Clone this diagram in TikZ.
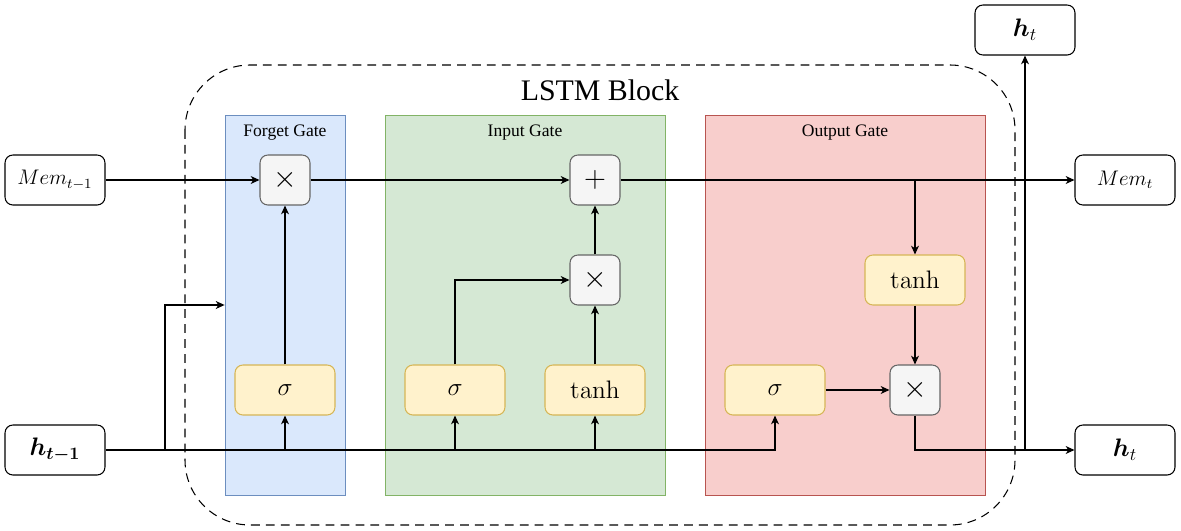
\documentclass[tikz,border=0pt]{standalone}
\usepackage[no-math]{fontspec}
\setmainfont{Liberation Serif}
\usepackage{amsmath}
\usepackage{bm}
\usetikzlibrary{shapes,arrows.meta,positioning,calc}

\definecolor{forgetfill}{HTML}{DAE8FC}
\definecolor{forgetline}{HTML}{6C8EBF}
\definecolor{inputfill}{HTML}{D5E8D4}
\definecolor{inputline}{HTML}{82B366}
\definecolor{outputfill}{HTML}{F8CECC}
\definecolor{outputline}{HTML}{B85450}
\definecolor{opfill}{HTML}{F5F5F5}
\definecolor{opline}{HTML}{666666}
\definecolor{actfill}{HTML}{FFF2CC}
\definecolor{actline}{HTML}{D6B656}

\tikzset{
  io/.style={draw, fill=white, rounded corners=4.5pt, minimum width=2cm, minimum height=1cm, inner sep=0pt},
  op/.style={draw=opline, fill=opfill, rounded corners=4.5pt, minimum size=1cm, inner sep=0pt, font=\LARGE},
  act/.style={draw=actline, fill=actfill, rounded corners=4.5pt, minimum width=2cm, minimum height=1cm, inner sep=0pt, font=\fontsize{15.5}{18}\selectfont},
  panel/.style={minimum width=#1, minimum height=7.6cm, inner sep=0pt, line width=0.5pt},
  gatename/.style={anchor=north, font=\fontsize{10}{12}\selectfont, yshift=-0.08cm},
}

\begin{document}
\begin{tikzpicture}[x=0.02cm, y=-0.02cm, line width=0.6pt, >={Stealth[length=5pt,width=4.5pt,inset=1.5pt]}]
    \useasboundingbox (0,0) rectangle (1181,531);

    % Gate panels
    \node[panel=2.4cm, draw=forgetline, fill=forgetfill] (fgate) at (285,305) {};
    \node[panel=5.6cm, draw=inputline, fill=inputfill] (igate) at (525,305) {};
    \node[panel=5.6cm, draw=outputline, fill=outputfill] (ogate) at (845,305) {};
    \node[gatename] at (fgate.north) {Forget Gate};
    \node[gatename] at (igate.north) {Input Gate};
    \node[gatename] at (ogate.north) {Output Gate};

    % Block
    \draw[dashed, dash pattern=on 5pt off 3.5pt, rounded corners=1.3cm] (185,65) rectangle (1015,525);
    \node[font=\fontsize{17}{20}\selectfont] (title) at (600,90) {LSTM Block};

    % Inputs and outputs
    \node[io, font=\fontsize{11.5}{14}\selectfont] (mprev) at (55,180) {$Mem_{t-1}$};
    \node[io, font=\Large] (hprev) at (55,450) {$\bm{h}_{\bm{t-1}}$};
    \node[io, font=\fontsize{11.5}{14}\selectfont] (mnext) at (1125,180) {$Mem_t$};
    \node[io, font=\Large] (hnext) at (1125,450) {$\bm{h}_t$};
    \node[io, font=\Large] (htop) at (1025,30) {$\bm{h}_t$};

    % Operations
    \node[op] (mulF) at (285,180) {$\times$};
    \node[op] (add) at (595,180) {$+$};
    \node[op] (mulI) at (595,280) {$\times$};
    \node[op] (mulO) at (915,390) {$\times$};
    \node[act] (sigF) at (285,390) {$\sigma$};
    \node[act] (sigI) at (455,390) {$\sigma$};
    \node[act] (tanhI) at (595,390) {$\tanh$};
    \node[act] (sigO) at (775,390) {$\sigma$};
    \node[act] (tanhO) at (915,280) {$\tanh$};

    % Cell state
    \draw[->] (mprev) -- (mulF);
    \draw[->] (mulF) -- (add);
    \draw[->] (add) -- (mnext);
    \draw[->] (add.east -| tanhO.north) -- (tanhO);

    % Hidden state
    \coordinate (split) at (165,450);
    \draw[->] (hprev.east) -| (sigO.south);
    \draw[->] (split) |- (fgate.west);
    \draw[->] (hprev.east -| sigF.south) -- (sigF);
    \draw[->] (hprev.east -| sigI.south) -- (sigI);
    \draw[->] (hprev.east -| tanhI.south) -- (tanhI);

    % Gates
    \draw[->] (sigF) -- (mulF);
    \draw[->] (sigI.north) |- (mulI.west);
    \draw[->] (tanhI) -- (mulI);
    \draw[->] (mulI) -- (add);
    \draw[->] (tanhO) -- (mulO);
    \draw[->] (sigO) -- (mulO);

    % Output
    \draw[->] (mulO.south) |- (hnext.west);
    \draw[->] (htop.south |- hnext.west) -- (htop);
\end{tikzpicture}
\end{document}
